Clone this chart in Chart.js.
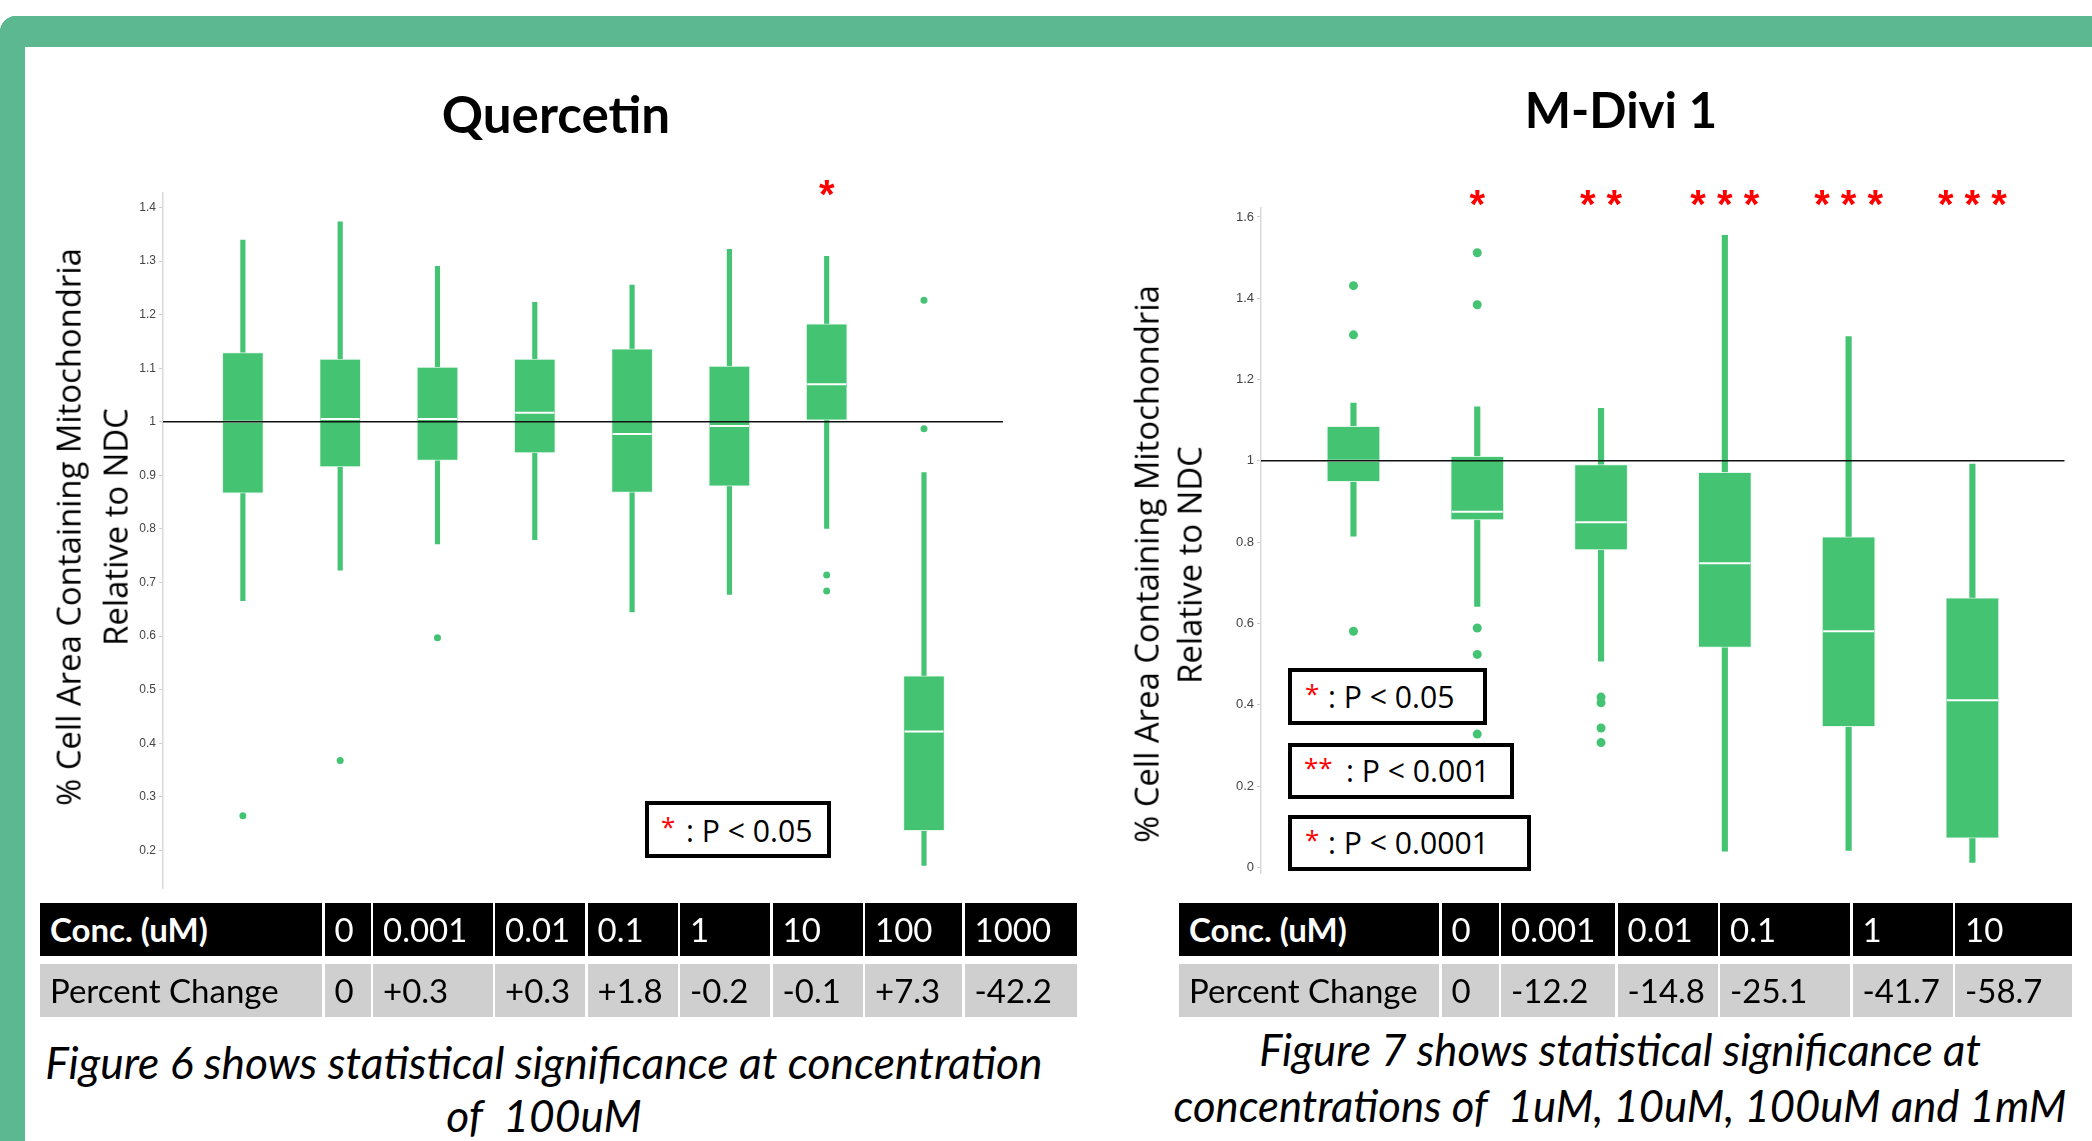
<!DOCTYPE html>
<html>
<head>
<meta charset="utf-8">
<title>Quercetin / M-Divi 1</title>
<script src="https://cdn.jsdelivr.net/npm/chart.js@4.4.1/dist/chart.umd.min.js"></script>
<style>
  html, body { margin: 0; padding: 0; background: #fff; }
  #page { position: relative; width: 2092px; height: 1141px; overflow: hidden; background: #fff; }
  #frame { position: absolute; left: 0; top: 16px; width: 2200px; height: 1200px; box-sizing: border-box;
           border-top: 31px solid #5cb890; border-left: 25px solid #5cb890; border-top-left-radius: 16px; }
  .txt { position: absolute; white-space: pre; line-height: 1; }
  canvas { position: absolute; }
  .legend { position: absolute; box-sizing: border-box; border: 4px solid #000; background: #fff; }
  .tbl { position: absolute; display: grid; column-gap: 2.5px; row-gap: 8px; font-family: Lato, "Open Sans", sans-serif; font-size: 33px; }
  .tbl div { height: 53px; line-height: 53px; padding-left: 10px; box-sizing: border-box; white-space: nowrap; overflow: hidden; }
  .tbl .hd { background: #000; color: #fff; }
  .tbl .rw { background: #cfcfcf; color: #000; }
</style>
</head>
<body>
<div id="page">
  <div id="frame"></div>
  <canvas id="qChart" width="1015" height="760" style="left:25px; top:150px;"></canvas>
  <canvas id="mChart" width="962" height="760" style="left:1130px; top:150px;"></canvas>
</div>
<script>
// ---- Quercetin (figure 6) ----
const qConc = ['0', '0.001', '0.01', '0.1', '1', '10', '100', '1000'];
const qLow  = [0.666, 0.723, 0.772, 0.780, 0.645, 0.678, 0.801, 0.172];
const qQ1   = [0.867, 0.916, 0.928, 0.942, 0.868, 0.880, 1.003, 0.237];
const qMed  = [1.000, 1.005, 1.005, 1.017, 0.977, 0.992, 1.070, 0.422];
const qQ3   = [1.129, 1.117, 1.102, 1.117, 1.136, 1.104, 1.183, 0.526];
const qHigh = [1.339, 1.373, 1.290, 1.223, 1.255, 1.322, 1.309, 0.905];
const qOut  = [[0.265], [0.368], [0.597], [], [], [], [0.714, 0.684], [1.227, 0.987]];
const qPct  = ['0', '+0.3', '+0.3', '+1.8', '-0.2', '-0.1', '+7.3', '-42.2'];
const qSig  = ['', '', '', '', '', '', '*', ''];
const qTicks = [0.2, 0.3, 0.4, 0.5, 0.6, 0.7, 0.8, 0.9, 1, 1.1, 1.2, 1.3, 1.4];

// ---- M-Divi 1 (figure 7) ----
const mConc = ['0', '0.001', '0.01', '0.1', '1', '10'];
const mLow  = [0.815, 0.642, 0.507, 0.040, 0.042, 0.012];
const mQ1   = [0.949, 0.855, 0.781, 0.541, 0.346, 0.072];
const mMed  = [1.000, 0.875, 0.849, 0.748, 0.581, 0.411];
const mQ3   = [1.085, 1.011, 0.991, 0.972, 0.813, 0.663];
const mHigh = [1.142, 1.133, 1.129, 1.555, 1.306, 0.992];
const mOut  = [[1.431, 1.310, 0.581], [1.512, 1.384, 0.589, 0.524, 0.328], [0.419, 0.405, 0.343, 0.307], [], [], []];
const mPct  = ['0', '-12.2', '-14.8', '-25.1', '-41.7', '-58.7'];
const mSig  = ['', '*', '* *', '* * *', '* * *', '* * *'];
const mTicks = [0, 0.2, 0.4, 0.6, 0.8, 1, 1.2, 1.4, 1.6];

const GREEN = '#44c473';
const page = document.getElementById('page');

// horizontal reference line at 1 (= NDC)
const refLine = {
  id: 'refLine',
  afterDatasetsDraw(chart, args, opts) {
    const {ctx, chartArea: a, scales: {y}} = chart;
    const py = y.getPixelForValue(opts.value);
    ctx.save();
    ctx.strokeStyle = '#111';
    ctx.lineWidth = 1.5;
    ctx.beginPath();
    ctx.moveTo(a.left, py);
    ctx.lineTo(a.right, py);
    ctx.stroke();
    ctx.restore();
  }
};

// red significance stars above the boxes
const sigMarks = {
  id: 'sigMarks',
  afterDraw(chart, args, opts) {
    const {ctx, chartArea: a, scales: {x}} = chart;
    ctx.save();
    ctx.fillStyle = '#ff0000';
    ctx.font = 'bold 40px "Liberation Sans", Arial, sans-serif';
    ctx.textAlign = 'center';
    ctx.textBaseline = 'alphabetic';
    opts.labels.forEach((s, i) => {
      if (s) ctx.fillText(s, x.getPixelForValue(i), a.top + opts.dy);
    });
    ctx.restore();
  }
};

function boxChart(id, d) {
  const outliers = [];
  d.out.forEach((list, i) => list.forEach(v => outliers.push({x: i, y: v})));
  return new Chart(document.getElementById(id), {
    type: 'bar',
    data: {
      datasets: [
        { // whiskers
          type: 'bar', grouped: false, order: 4,
          data: d.low.map((v, i) => ({x: i, y: [v, d.high[i]]})),
          backgroundColor: GREEN, barThickness: d.whisk, borderSkipped: false
        },
        { // boxes
          type: 'bar', grouped: false, order: 3,
          data: d.q1.map((v, i) => ({x: i, y: [v, d.q3[i]]})),
          backgroundColor: GREEN, borderColor: 'rgba(225,248,233,0.9)', borderWidth: 1,
          barThickness: d.boxW, borderSkipped: false
        },
        { // medians
          type: 'scatter', order: 2,
          data: d.med.map((v, i) => ({x: i, y: v})),
          pointStyle: 'line', pointRadius: d.boxW / 2 - 1, pointBorderWidth: 2, pointBorderColor: '#fff'
        },
        { // outliers
          type: 'scatter', order: 1, data: outliers,
          pointRadius: d.dot, pointBackgroundColor: GREEN, pointBorderWidth: 0
        }
      ]
    },
    options: {
      responsive: false,
      animation: false,
      devicePixelRatio: 1,
      events: [],
      layout: { padding: d.pad },
      scales: {
        x: { type: 'linear', min: d.xMin, max: d.xMax, display: false, offset: false },
        y: {
          min: d.yMin, max: d.yMax,
          afterBuildTicks: s => { s.ticks = d.ticks.map(v => ({value: v})); },
          afterFit: s => { s.width = d.axisW; },
          ticks: {
            color: '#444', padding: 3, font: d.tickFont,
            callback: v => String(Math.round(v * 10) / 10)
          },
          grid: { drawOnChartArea: false, drawTicks: true, tickLength: 4, color: '#cccccc' },
          border: { color: '#d9d9d9', width: 1.5 }
        }
      },
      plugins: {
        legend: { display: false },
        tooltip: { enabled: false },
        refLine: { value: 1 },
        sigMarks: { labels: d.sig, dy: d.sigDy }
      }
    },
    plugins: [refLine, sigMarks]
  });
}

boxChart('qChart', {
  low: qLow, q1: qQ1, med: qMed, q3: qQ3, high: qHigh, out: qOut, sig: qSig, ticks: qTicks,
  boxW: 41, whisk: 4.5, dot: 3.5,
  xMin: -0.821, xMax: 7.812, yMin: 0.129, yMax: 1.427,
  axisW: 138, pad: {top: 43, right: 37, bottom: 14, left: 0}, sigDy: 15,
  tickFont: {family: '"Liberation Sans Narrow", "Liberation Sans", Arial, sans-serif', size: 12}
});

boxChart('mChart', {
  low: mLow, q1: mQ1, med: mMed, q3: mQ3, high: mHigh, out: mOut, sig: mSig, ticks: mTicks,
  boxW: 53, whisk: 5.5, dot: 4.5,
  xMin: -0.747, xMax: 5.744, yMin: -0.015, yMax: 1.623,
  axisW: 131, pad: {top: 57.6, right: 20, bottom: 36.5, left: 0}, sigDy: 10,
  tickFont: {family: '"Liberation Sans", Arial, sans-serif', size: 13}
});

// ---- text pieces ----
function label(text, o) {
  const el = document.createElement('div');
  el.className = 'txt';
  el.textContent = text;
  el.style.fontFamily = o.family;
  el.style.fontSize = o.size + 'px';
  el.style.fontWeight = o.weight || 400;
  el.style.fontStyle = o.style || 'normal';
  el.style.color = o.color || '#000';
  page.appendChild(el);
  if (o.fitW) {
    const w = el.offsetWidth;
    el.style.fontSize = (o.size * o.fitW / w) + 'px';
  }
  el.style.left = o.x + 'px';
  el.style.top = o.y + 'px';
  const ax = o.align === 'left' ? '0' : '-50%';
  el.style.transform = 'translate(' + ax + ', -50%)' + (o.rot ? ' rotate(-90deg)' : '');
  return el;
}

function table(x, y, colW, head, row) {
  const t = document.createElement('div');
  t.className = 'tbl';
  t.style.left = x + 'px';
  t.style.top = y + 'px';
  t.style.gridTemplateColumns = colW.map(w => w + 'px').join(' ');
  head.forEach((s, i) => {
    const c = document.createElement('div');
    c.className = 'hd';
    if (i === 0) c.style.fontWeight = 700;
    c.textContent = s;
    t.appendChild(c);
  });
  row.forEach(s => {
    const c = document.createElement('div');
    c.className = 'rw';
    c.textContent = s;
    t.appendChild(c);
  });
  page.appendChild(t);
}

function legendBox(x, y, w, h, stars, starX, starCy, text, textX, textCy, fit) {
  const b = document.createElement('div');
  b.className = 'legend';
  Object.assign(b.style, {left: x + 'px', top: y + 'px', width: w + 'px', height: h + 'px'});
  page.appendChild(b);
  label(stars, {x: starX, y: starCy, family: '"Open Sans", sans-serif', size: 26, color: '#ff0000', align: 'left'});
  return label(text, {x: textX, y: textCy, family: '"Open Sans", sans-serif', size: fit.size || 29, fitW: fit.w, align: 'left'});
}

const SANS = '"Open Sans", sans-serif';
const LATO = 'Lato, "Open Sans", sans-serif';

// headings
label('Quercetin', {x: 556, y: 114, family: LATO, weight: 700, size: 48, fitW: 228});
label('M-Divi 1', {x: 1621, y: 110, family: LATO, weight: 700, size: 48, fitW: 193});

// axis titles
const yt1 = label('% Cell Area Containing Mitochondria', {x: 69, y: 527, family: SANS, size: 29, fitW: 558, rot: true});
const ytSize = parseFloat(yt1.style.fontSize);
label('Relative to NDC', {x: 116, y: 527, family: SANS, size: ytSize, rot: true});
label('% Cell Area Containing Mitochondria', {x: 1147, y: 564, family: SANS, size: ytSize, rot: true});
label('Relative to NDC', {x: 1190, y: 565, family: SANS, size: ytSize, rot: true});

// legends
const lg = legendBox(645, 801, 186, 57, '*', 661, 826, ': P < 0.05', 686, 831, {w: 127});
const lgSize = parseFloat(lg.style.fontSize);
legendBox(1288, 668, 199, 57, '*', 1305, 693, ': P < 0.05', 1328, 697, {size: lgSize});
legendBox(1288, 743, 226, 56, '**', 1304, 767, ': P < 0.001', 1346, 771, {size: lgSize});
legendBox(1288, 815, 243, 56, '*', 1305, 839, ': P < 0.0001', 1328, 843, {size: lgSize});

// tables
table(40, 903, [282, 46, 119.5, 90, 90, 90, 90, 97, 112], ['Conc. (uM)'].concat(qConc), ['Percent Change'].concat(qPct));
table(1179, 903, [260, 57, 114, 100, 130, 100, 117], ['Conc. (uM)'].concat(mConc), ['Percent Change'].concat(mPct));

// captions
const c1 = label('Figure 6 shows statistical significance at concentration', {x: 544, y: 1062, family: LATO, style: 'italic', size: 36, fitW: 997});
const capSize = parseFloat(c1.style.fontSize);
label('of  100uM', {x: 544, y: 1115, family: LATO, style: 'italic', size: capSize});
const c2 = label('concentrations of  1uM, 10uM, 100uM and 1mM', {x: 1620, y: 1106, family: LATO, style: 'italic', size: 36, fitW: 893});
label('Figure 7 shows statistical significance at', {x: 1620, y: 1050, family: LATO, style: 'italic', size: parseFloat(c2.style.fontSize)});
</script>
</body>
</html>
